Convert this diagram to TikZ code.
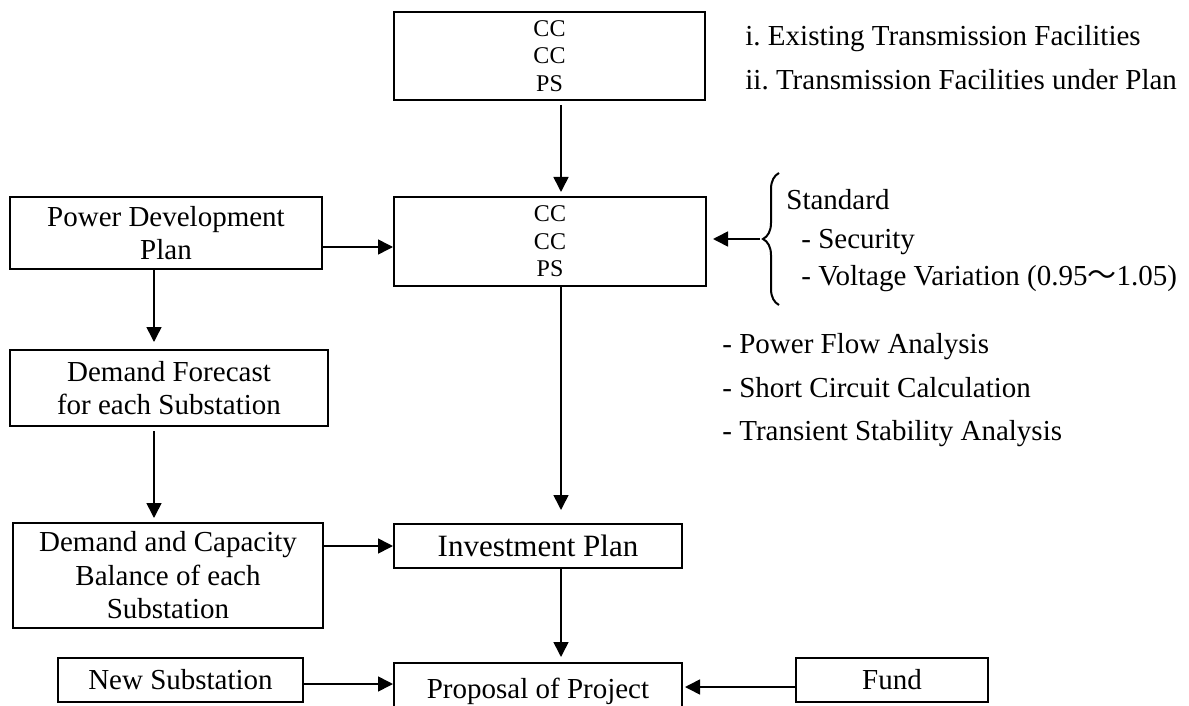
\documentclass[tikz,border=0pt]{standalone}
\usepackage{fontspec}
\setmainfont{Liberation Serif}
\newfontfamily\cjk{Noto Sans CJK JP}
\frenchspacing
\usetikzlibrary{arrows.meta,decorations.pathreplacing}

\begin{document}
\begin{tikzpicture}[x=0.5pt,y=-0.5pt,
  box/.style={draw,line width=1pt,inner sep=1pt,align=center,font=\fontsize{14.5}{16.75}\selectfont},
  arr/.style={-{Triangle[length=7.5pt,width=7.5pt]},line width=0.8pt},
  note/.style={anchor=base west,inner sep=0pt,font=\fontsize{14.5}{17}\selectfont}]
\useasboundingbox (0,0) rectangle (1189,706);
\coordinate (spine) at (561,0);
\coordinate (lcol) at (154,0);
\node[box,minimum width=155.5pt,minimum height=44pt,font=\fontsize{12}{13.75}\selectfont] (sysA) at (549.5,56) {CC\\CC\\PS};
\node[box,minimum width=156pt,minimum height=44.5pt,font=\fontsize{12}{13.75}\selectfont] (sysB) at (550,241.5) {CC\\CC\\PS};
\node[box,minimum width=156pt,minimum height=36pt] (pdp) at (166,233) {Power Development\\Plan};
\node[box,minimum width=159pt,minimum height=38pt] (fcst) at (169,388) {Demand Forecast\\for each Substation};
\node[box,minimum width=155pt,minimum height=52.5pt] (bal) at (168,575.5) {Demand and Capacity\\Balance of each\\Substation};
\node[box,minimum width=144pt,minimum height=22pt,font=\fontsize{15.5}{17}\selectfont] (inv) at (538,546) {\raisebox{-2pt}{Investment Plan}};
\node[box,minimum width=144pt,minimum height=28pt] (prop) at (538,691) {Proposal of Project};
\node[box,minimum width=122.5pt,minimum height=22pt] (newss) at (180.5,680) {New Substation};
\node[box,minimum width=96pt,minimum height=22pt] (fund) at (892,680) {Fund};
\node[note] (exist) at (745,46) {i. Existing Transmission Facilities};
\node[note] (plan) at (745,90) {ii. Transmission Facilities under Plan};
\node[note] (std) at (786,209) {Standard};
\node[note] (sec) at (801,248) {- Security};
\node[note] (volt) at (801,285) {- Voltage Variation (0.95{\cjk ～}1.05)};
\node[note] (pfa) at (722,353) {- Power Flow Analysis};
\node[note] (scc) at (722,397) {- Short Circuit Calculation};
\node[note] (tsa) at (722,440) {- Transient Stability Analysis};
\draw[line width=1pt,decorate,decoration={brace,amplitude=8pt}] (779,305) -- (779,173);
\coordinate (stdtip) at (760,239);
\draw[arr,shorten >=3pt] (stdtip) -- (sysB.east |- stdtip);
\draw[arr,shorten <=2pt,shorten >=2pt] (sysA.south -| spine) -- (sysB.north -| spine);
\draw[arr,shorten >=6.5pt] (sysB.south -| spine) -- (inv.north -| spine);
\draw[arr,shorten >=2.5pt] (inv.south -| spine) -- (prop.north -| spine);
\coordinate (pdrow) at (0,247);
\draw[arr] (pdp.east |- pdrow) -- (sysB.west |- pdrow);
\draw[arr,shorten >=3.5pt] (pdp.south -| lcol) -- (fcst.north -| lcol);
\draw[arr,shorten <=2pt,shorten >=2pt] (fcst.south -| lcol) -- (bal.north -| lcol);
\draw[arr] (bal.east |- inv.west) -- (inv.west);
\draw[arr] ([yshift=-2pt]newss.east) -- ([yshift=-2pt]newss.east -| prop.west);
\draw[arr,shorten >=1pt] ([yshift=-3.5pt]fund.west) -- ([yshift=-3.5pt]fund.west -| prop.east);
\end{tikzpicture}
\end{document}
